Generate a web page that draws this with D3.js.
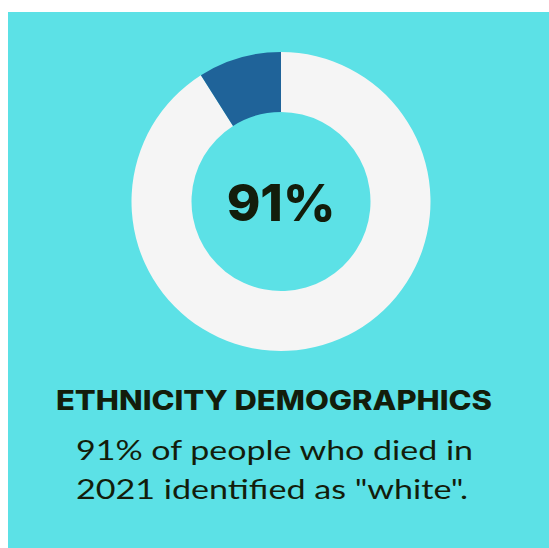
<!DOCTYPE html>
<html>
<head>
<meta charset="utf-8">
<script src="https://cdn.jsdelivr.net/npm/d3@7"></script>
<style>
  html, body { margin: 0; padding: 0; background: #ffffff; }
  svg { display: block; }
</style>
</head>
<body>
<svg id="chart" width="549" height="548"></svg>
<script>
// data
const groups = ["white", "other"];
const shares = [91, 9];
const colors = ["#f5f5f5", "#1f6399"];
const title = "ETHNICITY DEMOGRAPHICS";
const caption = ["91% of people who died in", "2021 identified as \"white\"."];

const svg = d3.select("#chart");

// panel background
svg.append("rect")
    .attr("x", 8)
    .attr("y", 12)
    .attr("width", 541)
    .attr("height", 536)
    .attr("fill", "#5ce1e6");

const cx = 281, cy = 201.5;

// donut - pie goes clockwise from top, so the 9% slice sits just left of 12 o'clock
const pie = d3.pie().sort(null).value(d => d);
const arc = d3.arc().innerRadius(89.5).outerRadius(149.5);

const g = svg.append("g").attr("transform", `translate(${cx},${cy})`);

g.selectAll("path")
    .data(pie(shares))
    .enter()
    .append("path")
    .attr("d", arc)
    .attr("fill", (d, i) => colors[i]);

// big number in the middle
g.append("text")
    .attr("x", 0)
    .attr("y", 19.5)
    .attr("text-anchor", "middle")
    .attr("font-family", "Inter, 'DejaVu Sans', sans-serif")
    .attr("font-weight", 800)
    .attr("font-size", 51)
    .attr("fill", "#131d0b")
    .text(shares[0] + "%");

// title
svg.append("text")
    .attr("x", 274)
    .attr("y", 410)
    .attr("text-anchor", "middle")
    .attr("font-family", "Inter, 'DejaVu Sans', sans-serif")
    .attr("font-weight", 800)
    .attr("font-size", 26.5)
    .attr("textLength", 436)
    .attr("lengthAdjust", "spacingAndGlyphs")
    .attr("fill", "#131d0b")
    .text(title);

// caption lines
const widths = [397, 392];
caption.forEach((line, i) => {
    svg.append("text")
        .attr("x", i === 0 ? 274.5 : 272)
        .attr("y", 460 + i * 39)
        .attr("text-anchor", "middle")
        .attr("font-family", "Lato, 'Open Sans', sans-serif")
        .attr("font-size", 26)
        .attr("textLength", widths[i])
        .attr("lengthAdjust", "spacingAndGlyphs")
        .attr("fill", "#131d0b")
        .text(line);
});
</script>
</body>
</html>
